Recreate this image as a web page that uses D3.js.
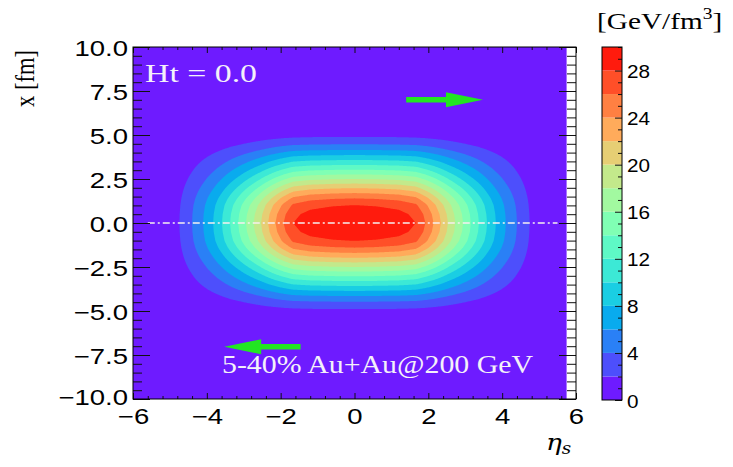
<!DOCTYPE html>
<html lang="en">
<head>
<meta charset="UTF-8">
<title>Energy density, Ht = 0.0</title>
<script src="https://d3js.org/d3.v7.min.js"></script>
<style>
    body { margin: 0; background: #fff; }
    svg { display: block; }
    .tick line { stroke: #111; }
    .domain { display: none; }
</style>
</head>
<body>
<div id="chart"></div>
<script>
// contour levels [GeV/fm^3], one colour band every 2
const levels = [2, 4, 6, 8, 10, 12, 14, 16, 18, 20, 22, 24, 26, 28];
const bandColors = ["#6e1bff", "#4d4ffc", "#2a80f6", "#09abee", "#1acee3", "#3ce9d6", "#5ef9c6",
    "#80ffb4", "#a2f9a0", "#c3e98b", "#e6ce74", "#ffab5b", "#ff8042", "#ff4f28", "#ff1b0d"];

// where each level crosses the eta axis (x = 0) and the x axis (eta = 0)
const etaEdges = [4.74, 4.40, 4.10, 3.83, 3.59, 3.37, 3.15, 2.94, 2.73, 2.53, 2.34, 2.14, 1.92, 1.66];
const xEdges = [4.88, 4.47, 4.15, 3.86, 3.58, 3.30, 3.03, 2.76, 2.50, 2.24, 1.98, 1.70, 1.40, 1.02];
// plateau in the middle and the tails
const etaCore = [0, 0.6, 1.2], etaCoreVal = [29.8, 29.6, 29.1];
const etaTail = [5.2, 5.75], etaTailVal = [0.6, 0];
const xCore = [0, 0.5], xCoreVal = [29.8, 29.3];
const xTail = [6.0, 10], xTailVal = [0.5, 0];
const peak = 29.8;

// axis ticks
const xMajor = [-6, -4, -2, 0, 2, 4, 6];
const yMajor = [-10, -7.5, -5, -2.5, 0, 2.5, 5, 7.5, 10];
const zMajor = [0, 4, 8, 12, 16, 20, 24, 28];

const width = 733, height = 467;
const svg = d3.select("#chart").append("svg")
    .attr("width", width).attr("height", height);

const x = d3.scaleLinear().domain([-6, 6]).range([133, 576]);
const y = d3.scaleLinear().domain([-10, 10]).range([399, 47]);
const z = d3.scaleLinear().domain([0, 30]).range([400, 47]);

// profiles along the two axes
const etaProf = d3.scaleLinear()
    .domain([...etaCore, ...etaEdges.slice().reverse(), ...etaTail])
    .range([...etaCoreVal, ...levels.slice().reverse(), ...etaTailVal]).clamp(true);
const xProf = d3.scaleLinear()
    .domain([...xCore, ...xEdges.slice().reverse(), ...xTail])
    .range([...xCoreVal, ...levels.slice().reverse(), ...xTailVal]).clamp(true);

// grid
const dEta = 0.025, dX = 0.05;
const nEta = Math.round(12 / dEta) + 1, nX = Math.round(20 / dX) + 1;
const values = new Float64Array(nEta * nX);
for (let j = 0; j < nX; j++) {
    const xv = -10 + j * dX;
    for (let i = 0; i < nEta; i++) {
        const ev = -6 + i * dEta;
        values[j * nEta + i] = etaProf(Math.abs(ev)) * xProf(Math.abs(xv)) / peak;
    }
}
const bands = d3.contours().size([nEta, nX]).thresholds(levels)(values);

const toPx = d3.geoTransform({
    point: function(cx, cy) {
        this.stream.point(x(-6 + (cx - 0.5) * dEta), y(-10 + (cy - 0.5) * dX));
    }
});
const path = d3.geoPath(toPx);

svg.append("clipPath").attr("id", "frame")
    .append("rect").attr("x", x(-6)).attr("y", y(10))
    .attr("width", x(6) - x(-6)).attr("height", y(-10) - y(10));

const plot = svg.append("g").attr("clip-path", "url(#frame)");
plot.append("rect")
    .attr("x", x(-6)).attr("y", y(10))
    .attr("width", x(5.75) - x(-6)).attr("height", y(-10) - y(10))
    .attr("fill", bandColors[0]);

plot.selectAll("path.band")
    .data(bands)
    .join("path")
    .attr("class", "band")
    .attr("d", path)
    .attr("fill", (d, i) => bandColors[i + 1]);

// dash-dot line along x = 0
plot.append("line")
    .attr("x1", x(-5.6)).attr("x2", x(5.5))
    .attr("y1", y(0)).attr("y2", y(0))
    .attr("stroke", "#f6f0f0").attr("stroke-width", 1.5)
    .attr("stroke-dasharray", "7,3,2,3");

// beam arrows
const arrows = [
    { from: [1.40, 7.0], to: [3.48, 7.0] },
    { from: [-1.46, -7.03], to: [-3.53, -7.03] }
];
plot.selectAll("path.arrow")
    .data(arrows)
    .join("path")
    .attr("class", "arrow")
    .attr("fill", "#22e622")
    .attr("d", d => {
        const x0 = x(d.from[0]), x1 = x(d.to[0]), yc = y(d.to[1]);
        const s = Math.sign(x1 - x0), hl = 37, hw = 7.5, sw = 2.7;
        const xb = x1 - s * hl;
        return `M${x0},${yc - sw}L${xb},${yc - sw}L${xb},${yc - hw}L${x1},${yc}L${xb},${yc + hw}L${xb},${yc + sw}L${x0},${yc + sw}Z`;
    });

// white strip at the right end of the histogram
svg.append("rect")
    .attr("x", x(5.75)).attr("y", y(10))
    .attr("width", x(6) - x(5.75)).attr("height", y(-10) - y(10))
    .attr("fill", "#fff");

const sx = 1.25;
const fmt1 = d3.format(".1f");

function minorRange(a, b, step, majors) {
    const out = [];
    for (let v = a; v <= b + 1e-9; v += step) {
        const r = Math.round(v * 100) / 100;
        if (!majors.some(m => Math.abs(m - r) < 1e-6)) out.push(r);
    }
    return out;
}
const xMinor = minorRange(-6, 6, 0.4, xMajor);
const yMinor = minorRange(-10, 10, 0.5, yMajor);
const zMinor = minorRange(0, 30, 1, zMajor);

// x axis
svg.append("g").attr("transform", `translate(0,${y(-10)})`)
    .call(d3.axisBottom(x).tickValues(xMinor).tickSize(-3).tickFormat(""));
const gx = svg.append("g").attr("transform", `translate(0,${y(-10)})`)
    .call(d3.axisBottom(x).tickValues(xMajor).tickSize(-6).tickFormat(d3.format("d")));
gx.selectAll("text")
    .attr("y", null).attr("dy", null)
    .attr("transform", `translate(0,25) scale(${sx},1)`)
    .attr("font-family", "Liberation Sans, Arial, sans-serif").attr("font-size", 22).attr("fill", "#000");
svg.append("g").attr("transform", `translate(0,${y(10)})`)
    .call(d3.axisTop(x).tickValues(xMinor).tickSize(-3).tickFormat(""));
svg.append("g").attr("transform", `translate(0,${y(10)})`)
    .call(d3.axisTop(x).tickValues(xMajor).tickSize(-6).tickFormat(""));

// y axis
svg.append("g").attr("transform", `translate(${x(-6)},0)`)
    .call(d3.axisLeft(y).tickValues(yMinor).tickSize(-9).tickFormat(""));
const gy = svg.append("g").attr("transform", `translate(${x(-6)},0)`)
    .call(d3.axisLeft(y).tickValues(yMajor).tickSize(-17).tickFormat(fmt1));
gy.selectAll("text")
    .attr("x", null).attr("dy", null)
    .attr("transform", d => `translate(-5,${d === -10 ? 5 : 8}) scale(${sx},1)`)
    .attr("font-family", "Liberation Sans, Arial, sans-serif").attr("font-size", 22).attr("fill", "#000");
svg.append("g").attr("transform", `translate(${x(6)},0)`)
    .call(d3.axisRight(y).tickValues(yMinor).tickSize(-9).tickFormat(""));
svg.append("g").attr("transform", `translate(${x(6)},0)`)
    .call(d3.axisRight(y).tickValues(yMajor).tickSize(-17).tickFormat(""));

// frame
svg.append("rect")
    .attr("x", x(-6)).attr("y", y(10))
    .attr("width", x(6) - x(-6)).attr("height", y(-10) - y(10))
    .attr("fill", "none").attr("stroke", "#000").attr("stroke-width", 1);

// colour bar
const cbX = 602, cbW = 20;
const cb = svg.append("g");
cb.selectAll("rect")
    .data(bandColors)
    .join("rect")
    .attr("x", cbX).attr("width", cbW)
    .attr("y", (d, i) => z(2 * i + 2))
    .attr("height", (d, i) => z(2 * i) - z(2 * i + 2))
    .attr("fill", d => d);
svg.append("g").attr("transform", `translate(${cbX + cbW},0)`)
    .call(d3.axisRight(z).tickValues(zMinor).tickSize(-4).tickFormat(""));
const gz = svg.append("g").attr("transform", `translate(${cbX + cbW},0)`)
    .call(d3.axisRight(z).tickValues(zMajor).tickSize(-7).tickPadding(5).tickFormat(d3.format("d")));
gz.selectAll("text")
    .attr("x", null).attr("dy", null)
    .attr("transform", `translate(5,7) scale(1.15,1)`)
    .attr("font-family", "Liberation Sans, Arial, sans-serif").attr("font-size", 18).attr("fill", "#000");
svg.append("rect")
    .attr("x", cbX).attr("y", z(30)).attr("width", cbW).attr("height", z(0) - z(30))
    .attr("fill", "none").attr("stroke", "#000").attr("stroke-width", 1);

// texts
const serif = "Liberation Serif, Times New Roman, serif";
svg.append("text")
    .attr("x", 145).attr("y", 82)
    .attr("font-family", serif).attr("font-size", 26).attr("fill", "#f4f0fa")
    .attr("textLength", 112).attr("lengthAdjust", "spacingAndGlyphs")
    .text("Ht = 0.0");
svg.append("text")
    .attr("x", 222).attr("y", 373)
    .attr("font-family", serif).attr("font-size", 26).attr("fill", "#f4f0fa")
    .attr("textLength", 311).attr("lengthAdjust", "spacingAndGlyphs")
    .text("5-40% Au+Au@200 GeV");

const cbTitle = svg.append("text")
    .attr("transform", "translate(597,29) scale(1.22,1)")
    .attr("font-family", serif).attr("font-size", 24).attr("fill", "#000");
cbTitle.append("tspan").text("[GeV/fm");
cbTitle.append("tspan").attr("dy", -10).attr("font-size", 16).text("3");
cbTitle.append("tspan").attr("dy", 10).text("]");

svg.append("text")
    .attr("transform", `translate(34,50) scale(1.25,1) rotate(-90)`)
    .attr("text-anchor", "end")
    .attr("font-family", serif).attr("font-size", 22).attr("fill", "#000")
    .attr("textLength", 57).attr("lengthAdjust", "spacingAndGlyphs")
    .text("x [fm]");

const etaLab = svg.append("text")
    .attr("transform", `translate(546,450) scale(1.15,1)`)
    .attr("font-family", "DejaVu Serif, serif").attr("font-style", "italic")
    .attr("font-size", 23).attr("fill", "#000");
etaLab.append("tspan").text("η");
etaLab.append("tspan").attr("dy", 4).attr("font-size", 16).text("s");
</script>
</body>
</html>
